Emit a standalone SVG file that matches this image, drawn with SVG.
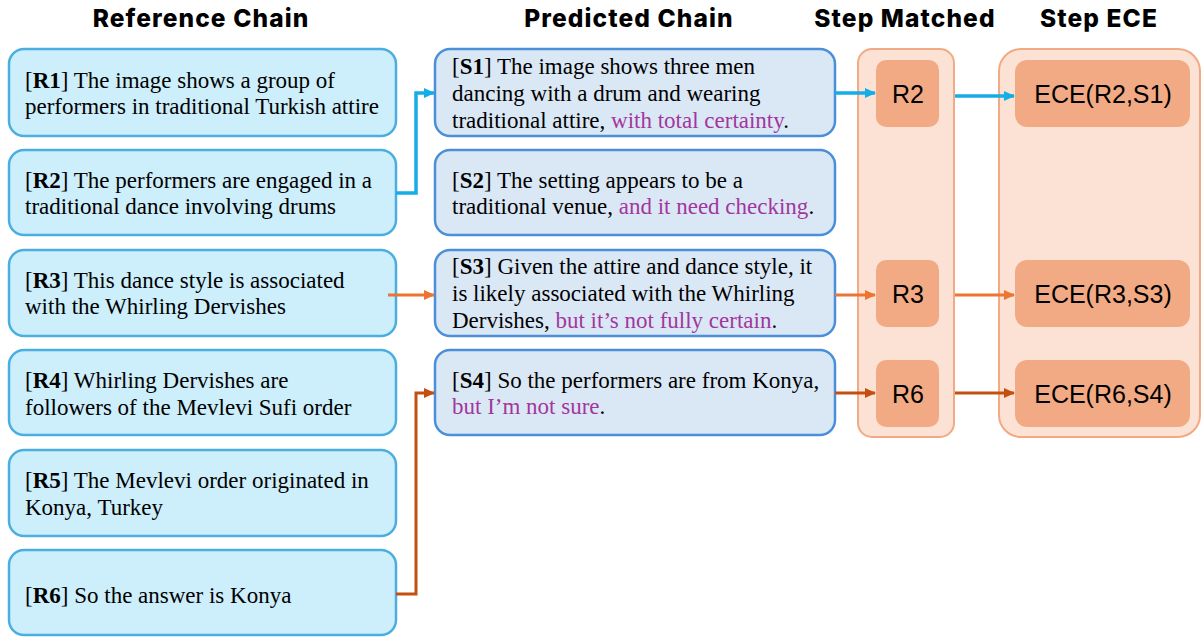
<svg xmlns="http://www.w3.org/2000/svg" width="1201" height="637" viewBox="0 0 1201 637">
<style>
.title{font-family:Inter,"Liberation Sans",sans-serif;font-weight:800;font-size:24.5px;letter-spacing:1.1px;fill:#000;text-anchor:middle}
.ref{fill:#cdeefb;stroke:#4aafe0;stroke-width:2.5}
.pred{fill:#dae8f6;stroke:#4b8fd8;stroke-width:2.5}
.t{font-family:"Liberation Serif","Times New Roman",serif;font-size:23px;fill:#000}
.p{fill:#a3369d}
.cont{fill:#fbe2d5;stroke:#f2aa84;stroke-width:2}
.step{fill:#f2aa84}
.st{font-family:"Liberation Sans",Arial,sans-serif;font-size:25px;fill:#000;text-anchor:middle}
.blue{stroke:#13aee8;stroke-width:3.5;fill:none}
.or{stroke:#ec7531;stroke-width:3;fill:none}
.dor{stroke:#c4500f;stroke-width:3;fill:none}
</style>
<defs>
<marker id="ab" markerWidth="11" markerHeight="10" refX="10" refY="5" orient="auto" markerUnits="userSpaceOnUse" viewBox="0 0 11 10"><path d="M0,0 L11,5 L0,10 Z" fill="#13aee8"/></marker>
<marker id="ao" markerWidth="11" markerHeight="10" refX="10" refY="5" orient="auto" markerUnits="userSpaceOnUse" viewBox="0 0 11 10"><path d="M0,0 L11,5 L0,10 Z" fill="#ec7531"/></marker>
<marker id="ad" markerWidth="11" markerHeight="10" refX="10" refY="5" orient="auto" markerUnits="userSpaceOnUse" viewBox="0 0 11 10"><path d="M0,0 L11,5 L0,10 Z" fill="#c4500f"/></marker>
</defs>
<rect width="1201" height="637" fill="#fff"/>
<g id="titles">
<text class="title" x="201" y="27">Reference Chain</text>
<text class="title" x="629" y="27">Predicted Chain</text>
<text class="title" x="905" y="27">Step Matched</text>
<text class="title" x="1099" y="27">Step ECE</text>
</g>
<g id="containers">
<rect id="stepMatchedBox" class="cont" x="858" y="49" width="96" height="388" rx="14"/>
<rect id="stepECEBox" class="cont" x="999" y="49" width="201" height="388" rx="22"/>
</g>
<g id="R1"><rect class="ref" x="9" y="49" width="387" height="87" rx="15"/>
<text class="t" x="25" y="88">[<tspan font-weight="700">R1</tspan>] The image shows a group of</text>
<text class="t" x="25" y="114">performers in traditional Turkish attire</text></g>
<g id="R2"><rect class="ref" x="9" y="150" width="387" height="85" rx="15"/>
<text class="t" x="25" y="188">[<tspan font-weight="700">R2</tspan>] The performers are engaged in a</text>
<text class="t" x="25" y="214">traditional dance involving drums</text></g>
<g id="R3"><rect class="ref" x="9" y="250" width="387" height="86" rx="15"/>
<text class="t" x="25" y="288">[<tspan font-weight="700">R3</tspan>] This dance style is associated</text>
<text class="t" x="25" y="314">with the Whirling Dervishes</text></g>
<g id="R4"><rect class="ref" x="9" y="350" width="387" height="85" rx="15"/>
<text class="t" x="25" y="388">[<tspan font-weight="700">R4</tspan>] Whirling Dervishes are</text>
<text class="t" x="25" y="415">followers of the Mevlevi Sufi order</text></g>
<g id="R5"><rect class="ref" x="9" y="450" width="387" height="86" rx="15"/>
<text class="t" x="25" y="488">[<tspan font-weight="700">R5</tspan>] The Mevlevi order originated in</text>
<text class="t" x="25" y="515">Konya, Turkey</text></g>
<g id="R6"><rect class="ref" x="9" y="550" width="387" height="85" rx="15"/>
<text class="t" x="25" y="603">[<tspan font-weight="700">R6</tspan>] So the answer is Konya</text></g>
<g id="S1"><rect class="pred" x="435" y="49" width="400" height="87" rx="15"/>
<text class="t" x="452" y="74">[<tspan font-weight="700">S1</tspan>] The image shows three men</text>
<text class="t" x="452" y="101">dancing with a drum and wearing</text>
<text class="t" x="452" y="128">traditional attire, <tspan class="p">with total certainty</tspan>.</text></g>
<g id="S2"><rect class="pred" x="435" y="150" width="400" height="85" rx="15"/>
<text class="t" x="452" y="188">[<tspan font-weight="700">S2</tspan>] The setting appears to be a</text>
<text class="t" x="452" y="214">traditional venue, <tspan class="p">and it need checking</tspan>.</text></g>
<g id="S3"><rect class="pred" x="435" y="250" width="400" height="86" rx="15"/>
<text class="t" x="452" y="274">[<tspan font-weight="700">S3</tspan>] Given the attire and dance style, it</text>
<text class="t" x="452" y="301">is likely associated with the Whirling</text>
<text class="t" x="452" y="328">Dervishes, <tspan class="p">but it’s not fully certain</tspan>.</text></g>
<g id="S4"><rect class="pred" x="435" y="350" width="400" height="85" rx="15"/>
<text class="t" x="452" y="388">[<tspan font-weight="700">S4</tspan>] So the performers are from Konya,</text>
<text class="t" x="452" y="414"><tspan class="p">but I’m not sure</tspan>.</text></g>
<g id="M1"><rect class="step" x="876" y="60" width="63" height="67" rx="10"/><text class="st" x="908" y="103">R2</text></g>
<g id="M2"><rect class="step" x="876" y="260" width="63" height="67" rx="10"/><text class="st" x="908" y="303">R3</text></g>
<g id="M3"><rect class="step" x="876" y="360" width="63" height="67" rx="10"/><text class="st" x="908" y="403">R6</text></g>
<g id="E1"><rect class="step" x="1015" y="60" width="175" height="67" rx="12"/><text class="st" x="1103" y="103">ECE(R2,S1)</text></g>
<g id="E2"><rect class="step" x="1015" y="260" width="175" height="67" rx="12"/><text class="st" x="1103" y="303">ECE(R3,S3)</text></g>
<g id="E3"><rect class="step" x="1015" y="360" width="175" height="67" rx="12"/><text class="st" x="1103" y="403">ECE(R6,S4)</text></g>
<g id="connectors">
<path class="blue" d="M396,193 H416 V93 H434" marker-end="url(#ab)"/>
<path class="blue" d="M835,93 H875" marker-end="url(#ab)"/>
<path class="blue" d="M955,96 H1014" marker-end="url(#ab)"/>
<path class="or" d="M388,295 H434" marker-end="url(#ao)"/>
<path class="or" d="M835,295 H875" marker-end="url(#ao)"/>
<path class="or" d="M955,295 H1014" marker-end="url(#ao)"/>
<path class="dor" d="M396,594 H416 V393 H434" marker-end="url(#ad)"/>
<path class="dor" d="M835,393 H875" marker-end="url(#ad)"/>
<path class="dor" d="M955,393 H1014" marker-end="url(#ad)"/>
</g>
</svg>
